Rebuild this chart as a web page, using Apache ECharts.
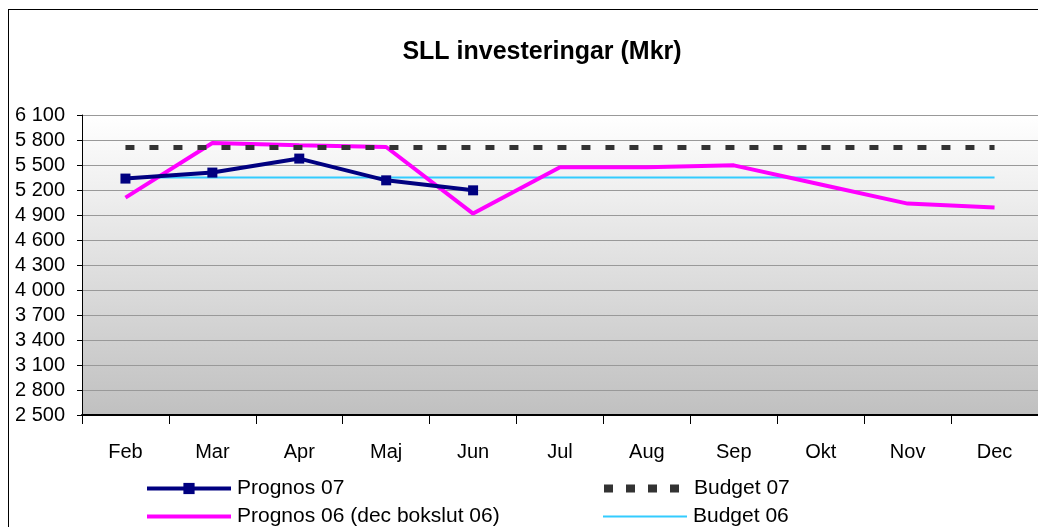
<!DOCTYPE html>
<html>
<head>
<meta charset="utf-8">
<script src="https://cdn.jsdelivr.net/npm/echarts@6/dist/echarts.min.js"></script>
<style>
html, body { margin: 0; padding: 0; background: #fff; overflow: hidden; }
#main { position: absolute; left: 0; top: 0; width: 1038px; height: 527px; }
#frame { position: absolute; left: 8px; top: 9px; width: 1100px; height: 600px; border: 1px solid #000; pointer-events: none; }
</style>
</head>
<body>
<div id="main"></div>
<div id="frame"></div>
<script>
// månader
const months = ['Feb', 'Mar', 'Apr', 'Maj', 'Jun', 'Jul', 'Aug', 'Sep', 'Okt', 'Nov', 'Dec'];

// serier (Mkr)
const prognos07 = [5337, 5409, 5577, 5316, 5196, null, null, null, null, null, null];
const prognos06 = [5109, 5764, 5736, 5716, 4917, 5472, 5472, 5496, 5266, 5037, 4989];
const budget07 = [5710, 5710, 5710, 5710, 5710, 5710, 5710, 5710, 5710, 5710, 5710];
const budget06 = [5350, 5350, 5350, 5350, 5350, 5350, 5350, 5350, 5350, 5350, 5350];

// y-axelns skala
const yMin = 2500;
const yMax = 6100;
const yStep = 300;

const font = '"Liberation Sans", Arial, sans-serif';

// tusentalsavgränsare med mellanslag: 6100 -> "6 100"
const fmt = v => String(v).replace(/\B(?=(\d{3})+(?!\d))/g, ' ');

// gemensamt för de fyra legenderna (en per post, två kolumner)
const legendBase = {
    orient: 'horizontal',
    padding: 0,
    itemWidth: 84,
    itemHeight: 14,
    textStyle: { fontFamily: font, fontSize: 21, color: '#000', padding: [0, 0, 0, 1] }
};
const noDot = { color: 'rgba(0,0,0,0)', opacity: 0, borderWidth: 0 };

const option = {
    animation: false,
    title: {
        text: 'SLL investeringar (Mkr)',
        left: 537,
        top: 35,
        textAlign: 'center',
        textStyle: { fontFamily: font, fontSize: 25, fontWeight: 'bold', color: '#000' }
    },
    legend: [
        Object.assign({}, legendBase, {
            data: [{ name: 'Prognos 07', lineStyle: { width: 4 } }],
            left: 145, top: 478
        }),
        Object.assign({}, legendBase, {
            data: [{ name: 'Prognos 06 (dec bokslut 06)', itemStyle: noDot, lineStyle: { width: 4 } }],
            left: 145, top: 506
        }),
        Object.assign({}, legendBase, {
            data: [{ name: 'Budget 07', itemStyle: noDot, lineStyle: { width: 8, type: [9, 13] } }],
            left: 600, top: 478
        }),
        Object.assign({}, legendBase, {
            data: [{ name: 'Budget 06', itemStyle: noDot, lineStyle: { width: 2 } }],
            left: 602, top: 506
        })
    ],
    grid: {
        left: 82,
        top: 115,
        right: -5,
        bottom: 112,
        show: true,
        borderWidth: 0,
        backgroundColor: {
            type: 'linear', x: 0, y: 0, x2: 0, y2: 1,
            colorStops: [
                { offset: 0, color: '#ffffff' },
                { offset: 1, color: '#c0c0c0' }
            ]
        }
    },
    xAxis: {
        type: 'category',
        data: months,
        boundaryGap: true,
        axisLine: { lineStyle: { color: '#000', width: 2 } },
        axisTick: { show: true, length: 9, lineStyle: { color: '#000', width: 1 } },
        axisLabel: { fontFamily: font, fontSize: 20, color: '#000', margin: 27, interval: 0 },
        splitLine: { show: false }
    },
    yAxis: {
        type: 'value',
        min: yMin,
        max: yMax,
        interval: yStep,
        axisLine: { show: true, lineStyle: { color: '#000', width: 1 } },
        axisTick: { show: true, length: 5, lineStyle: { color: '#000' } },
        axisLabel: { fontFamily: font, fontSize: 20, color: '#000', margin: 17, formatter: fmt },
        splitLine: { show: true, lineStyle: { color: '#999', width: 1 } }
    },
    series: [
        {
            name: 'Budget 06',
            type: 'line',
            data: budget06,
            symbol: 'none',
            lineStyle: { color: '#33ccff', width: 2 },
            itemStyle: { color: '#33ccff' }
        },
        {
            name: 'Prognos 06 (dec bokslut 06)',
            type: 'line',
            data: prognos06,
            symbol: 'none',
            lineStyle: { color: '#ff00ff', width: 4 },
            itemStyle: { color: '#ff00ff' }
        },
        {
            name: 'Budget 07',
            type: 'line',
            data: budget07,
            symbol: 'none',
            lineStyle: { color: '#333333', width: 5, type: [9, 15] },
            itemStyle: { color: '#333333' }
        },
        {
            name: 'Prognos 07',
            type: 'line',
            data: prognos07,
            symbol: 'rect',
            symbolSize: 10,
            showSymbol: true,
            lineStyle: { color: '#000080', width: 4 },
            itemStyle: { color: '#000080' }
        }
    ]
};

const myChart = echarts.init(document.getElementById('main'), null, { renderer: 'canvas' });
myChart.setOption(option);
</script>
</body>
</html>
